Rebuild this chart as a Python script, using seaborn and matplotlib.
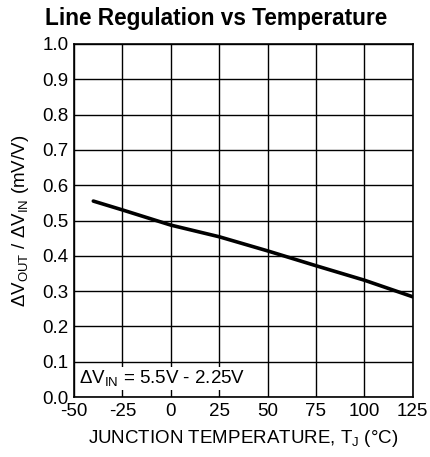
import matplotlib
matplotlib.use("Agg")
import matplotlib.pyplot as plt
import seaborn as sns
import pandas as pd

# Line regulation curve
temperature_c = [-40, -25, 0, 25, 50, 75, 100, 125]
line_reg_mv_per_v = [0.555, 0.530, 0.487, 0.454, 0.414, 0.372, 0.331, 0.284]

x_ticks = [-50, -25, 0, 25, 50, 75, 100, 125]
y_ticks = [0.0, 0.1, 0.2, 0.3, 0.4, 0.5, 0.6, 0.7, 0.8, 0.9, 1.0]

sns.set_theme(style="white")
plt.rcParams['font.family'] = ['Liberation Sans', 'DejaVu Sans']
plt.rcParams['mathtext.fontset'] = 'custom'
plt.rcParams['mathtext.rm'] = 'Liberation Sans'
plt.rcParams['mathtext.it'] = 'Liberation Sans'
plt.rcParams['mathtext.default'] = 'regular'
plt.rcParams['text.color'] = 'black'
plt.rcParams['axes.labelcolor'] = 'black'
plt.rcParams['xtick.color'] = 'black'
plt.rcParams['ytick.color'] = 'black'

df = pd.DataFrame({"T": temperature_c, "reg": line_reg_mv_per_v})

fig = plt.figure(figsize=(4.30, 4.57), dpi=100)
ax = fig.add_axes([0.172, 0.131, 0.788, 0.773])

sns.lineplot(data=df, x="T", y="reg", ax=ax, color="black", linewidth=2.6)

ax.set_xlim(-50, 125)
ax.set_ylim(0, 1.0)
ax.set_xticks(x_ticks)
ax.set_yticks(y_ticks)
ax.set_xticklabels([str(v) for v in x_ticks], fontsize=13.5)
ax.set_yticklabels([f"{v:.1f}" for v in y_ticks], fontsize=13.5)
ax.tick_params(axis="both", length=0, pad=4, colors="black")
ax.grid(True, color="black", linewidth=1.0)
for s in ax.spines.values():
    s.set_color("black")
    s.set_linewidth(1.2)

ax.set_xlabel(r"JUNCTION TEMPERATURE, T$_J$ ($\degree$C)", fontsize=13.5, labelpad=6,
              color="black")
ax.set_ylabel(r"$\Delta$V$_{OUT}$ / $\Delta$V$_{IN}$ (mV/V)", fontsize=13.5, labelpad=8,
              color="black")
fig.suptitle("Line Regulation vs Temperature", x=0.503, y=0.985, fontsize=16.3,
             fontweight="bold", va="top", color="black")

ax.text(-47.5, 0.025, r"$\Delta$V$_{IN}$ = 5.5V - 2.25V", fontsize=13.5, ha="left", va="bottom",
        color="black", bbox=dict(facecolor="white", edgecolor="none", pad=1.0))

fig.savefig("out.png", dpi=100, facecolor="white")
